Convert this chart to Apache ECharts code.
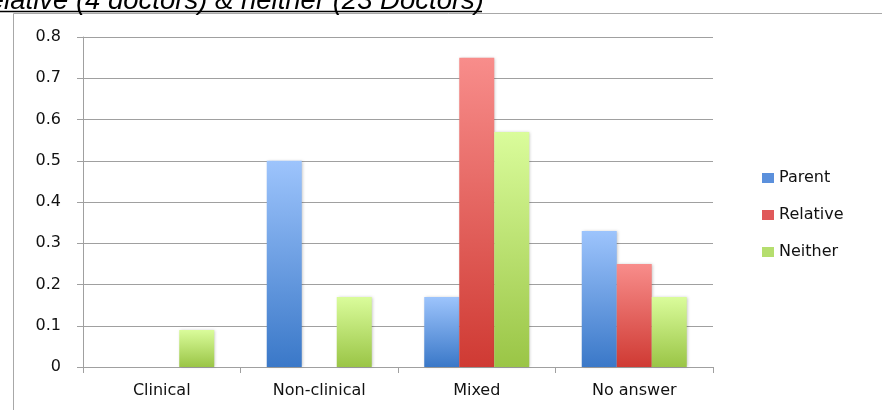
<!DOCTYPE html>
<html><head><meta charset="utf-8">
<script src="https://cdn.jsdelivr.net/npm/echarts@6/dist/echarts.min.js"></script>
<style>html,body{margin:0;padding:0;background:#fff}#c{width:882px;height:410px}</style>
</head><body><div id="c"></div>
<script>
const categories = ['Clinical', 'Non-clinical', 'Mixed', 'No answer'];
const parent = [0, 0.5, 0.17, 0.33];
const relative = [0, 0, 0.75, 0.25];
const neither = [0.09, 0.17, 0.57, 0.17];
const yTicks = [0, 0.1, 0.2, 0.3, 0.4, 0.5, 0.6, 0.7, 0.8];
const titleText = 'Relative (4 doctors) & neither (23 Doctors)';

function grad(top, bottom) {
  return new echarts.graphic.LinearGradient(0, 0, 0, 1, [{offset: 0, color: top}, {offset: 1, color: bottom}]);
}
const font = '"DejaVu Sans", sans-serif';
const chart = echarts.init(document.getElementById('c'), null, {renderer: 'canvas'});
const mk = (name, data, top, bottom) => ({
  name, type: 'bar', data, barWidth: 35, barGap: '0%',
  itemStyle: {color: grad(top, bottom), shadowColor: 'rgba(0,0,0,0.25)', shadowBlur: 3, shadowOffsetX: 1, shadowOffsetY: 0},
  animation: false
});
chart.setOption({
  animation: false,
  grid: {left: 83, right: 169, top: 37, bottom: 43, containLabel: false},
  legend: {
    orient: 'vertical', left: 757, top: 165, itemWidth: 12, itemHeight: 10, itemGap: 21,
    icon: 'rect',
    textStyle: {fontFamily: font, fontSize: 16, color: '#111'},
    data: [
      {name: 'Parent', itemStyle: {color: '#5b90dc'}},
      {name: 'Relative', itemStyle: {color: '#e0595a'}},
      {name: 'Neither', itemStyle: {color: '#b5de6e'}}
    ]
  },
  xAxis: {
    type: 'category', data: categories,
    axisLine: {lineStyle: {color: '#a0a0a0', width: 1}},
    axisTick: {show: true, length: 6, lineStyle: {color: '#a0a0a0'}},
    axisLabel: {fontFamily: font, fontSize: 16, color: '#111', margin: 16}
  },
  yAxis: {
    type: 'value', min: 0, max: yTicks[yTicks.length - 1], interval: 0.1,
    axisLine: {show: true, lineStyle: {color: '#a0a0a0', width: 1}},
    axisTick: {show: true, length: 6, lineStyle: {color: '#a0a0a0'}},
    splitLine: {lineStyle: {color: '#a0a0a0', width: 1}},
    axisLabel: {fontFamily: font, fontSize: 16, color: '#111', margin: 22,
      formatter: v => { const t = yTicks.find(x => Math.abs(x - v) < 1e-9); return t === undefined ? '' : String(t); }}
  },
  series: [
    mk('Parent', parent, '#9dc4fc', '#3a78c8'),
    mk('Relative', relative, '#f88d8b', '#cf3a33'),
    mk('Neither', neither, '#dafc9b', '#9ac546')
  ],
  graphic: [
    {type: 'rect', shape: {x: 13.5, y: 13.5, width: 1000, height: 1000}, style: {fill: 'none', stroke: '#a8a8a8', lineWidth: 1}, silent: true},
    {type: 'text', x: 484, y: 15, style: {text: titleText, fontFamily: 'Liberation Sans, Arial, sans-serif', fontStyle: 'italic', fontSize: 27.5, fill: '#000', align: 'right', verticalAlign: 'bottom'}},
    {type: 'line', shape: {x1: 0, y1: 11.5, x2: 482, y2: 11.5}, style: {stroke: '#000', lineWidth: 1.5}}
  ]
});
</script></body></html>
